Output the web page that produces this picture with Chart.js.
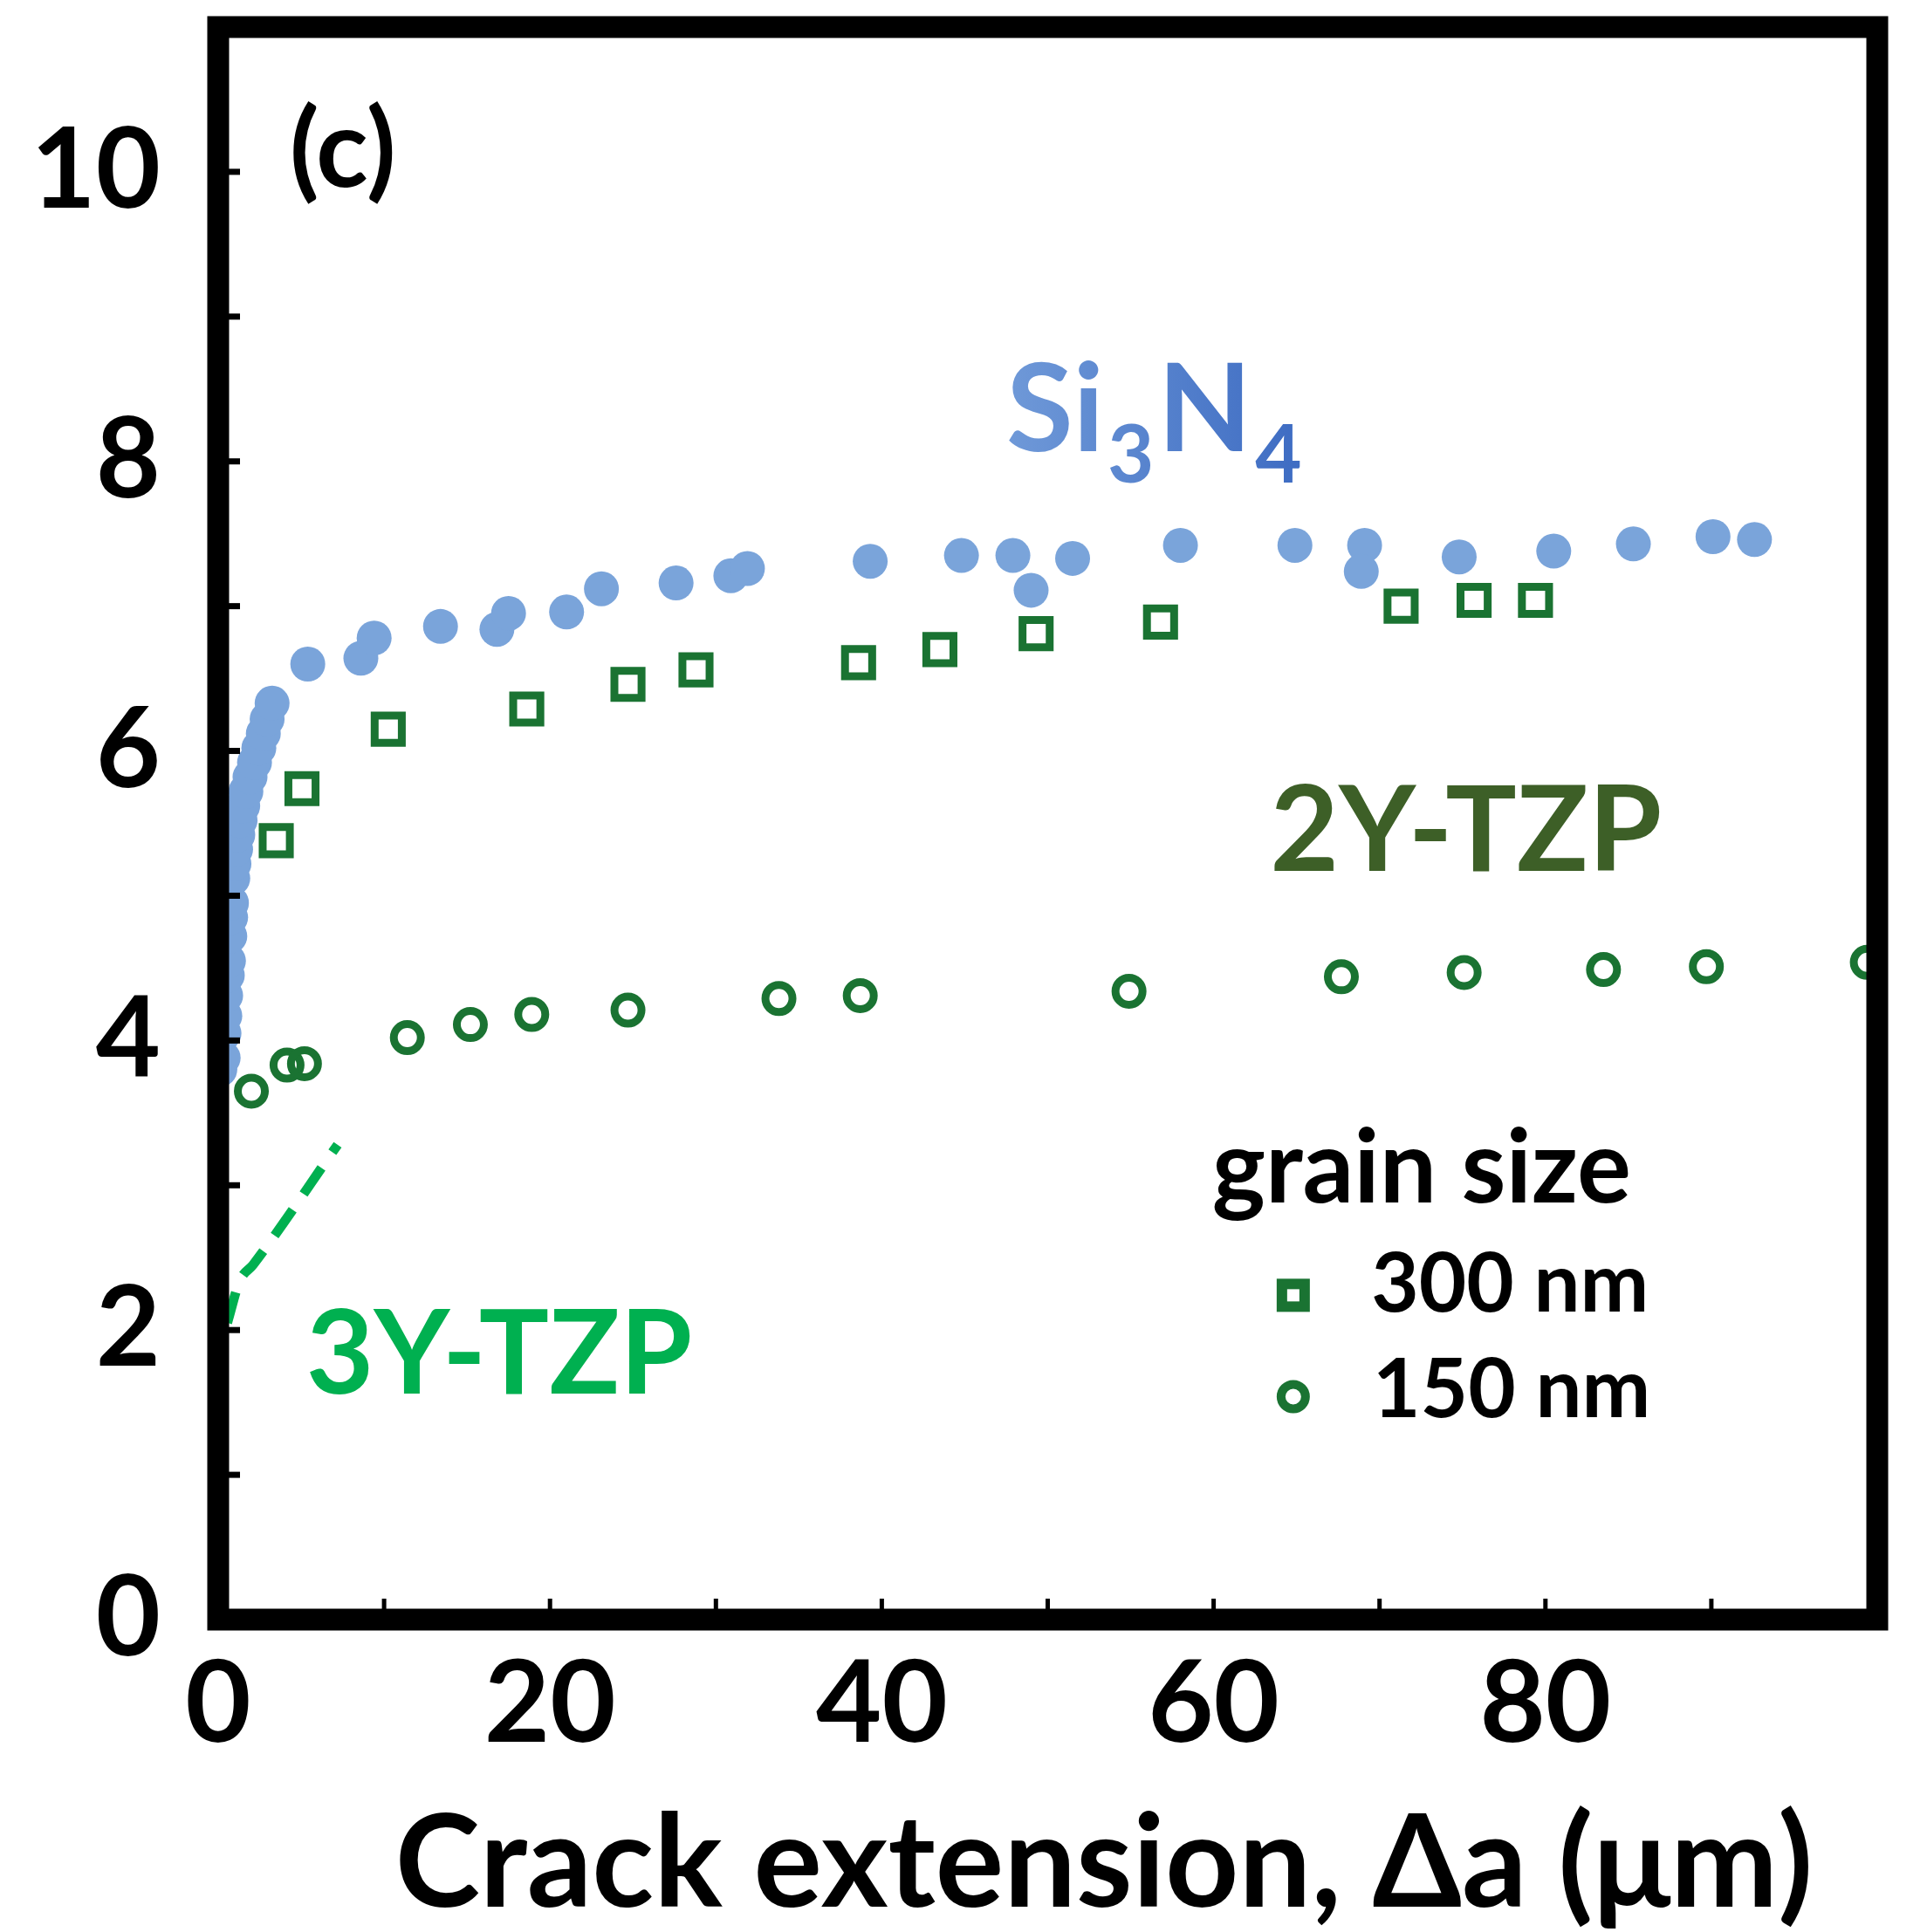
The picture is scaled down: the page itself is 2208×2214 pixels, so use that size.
<!DOCTYPE html>
<html>
<head>
<meta charset="utf-8">
<script src="https://cdn.jsdelivr.net/npm/chart.js@4.4.1/dist/chart.umd.min.js"></script>
<style>
  html, body { margin: 0; padding: 0; background: #fff; }
  #wrap { width: 2208px; height: 2214px; }
</style>
</head>
<body>
<div id="wrap"><canvas id="kChart"></canvas></div>
<script>
// Si3N4 - filled blue circles
const si3n4X = [0.1, 0.3, 0.35, 0.4, 0.45, 0.55, 0.62, 0.7, 0.75, 0.8, 0.88, 0.95, 1.05, 1.18, 1.32, 1.48, 1.67, 1.92, 2.19, 2.45, 2.72, 2.95, 3.25,
  5.4, 8.6, 9.4, 13.4, 16.8, 17.5, 21.0, 23.1, 27.6, 30.9, 31.9, 39.3, 44.8, 47.9, 49.0, 51.5, 58.0, 64.9, 69.1, 68.9, 74.8, 80.5, 85.3, 90.1, 92.6];
const si3n4Y = [3.80, 3.88, 4.05, 4.17, 4.31, 4.45, 4.55, 4.72, 4.85, 4.95, 5.12, 5.22, 5.32, 5.42, 5.52, 5.62, 5.72, 5.82, 5.92, 6.02, 6.12, 6.22, 6.33,
  6.60, 6.64, 6.78, 6.86, 6.84, 6.95, 6.96, 7.12, 7.16, 7.21, 7.26, 7.31, 7.35, 7.35, 7.11, 7.33, 7.42, 7.42, 7.42, 7.24, 7.34, 7.38, 7.43, 7.48, 7.46];

// 2Y-TZP, 300 nm grains - open squares
const tzp300X = [3.5, 5.05, 10.25, 18.6, 24.7, 28.8, 38.6, 43.5, 49.3, 56.8, 71.3, 75.7, 79.4];
const tzp300Y = [5.38, 5.74, 6.15, 6.29, 6.46, 6.56, 6.61, 6.70, 6.81, 6.89, 7.00, 7.04, 7.04];

// 2Y-TZP, 150 nm grains - open circles
const tzp150X = [2.0, 4.15, 5.2, 11.4, 15.2, 18.9, 24.7, 33.8, 38.7, 54.9, 67.7, 75.1, 83.5, 89.7, 99.4];
const tzp150Y = [3.65, 3.83, 3.84, 4.02, 4.11, 4.18, 4.21, 4.29, 4.31, 4.34, 4.44, 4.47, 4.49, 4.51, 4.54];

// 3Y-TZP - dashed curve
const tzp3yX = [0.55, 1.3, 2.1, 7.2];
const tzp3yY = [2.05, 2.34, 2.45, 3.28];

const xTickLabels = ['0', '20', '40', '60', '80'];
const yTickLabels = ['0', '2', '4', '6', '8', '10'];

const blue = '#7aa4da';
const darkGreen = '#1a7332';
const brightGreen = '#00b050';
const FONT = 'Lato, "Open Sans", sans-serif';

function pts(xs, ys) {
  return xs.map((v, i) => ({ x: v, y: ys[i] }));
}

function noPad(s) {
  s.paddingTop = 0;
  s.paddingBottom = 0;
  s.paddingLeft = 0;
  s.paddingRight = 0;
}

// black frame with inward ticks, drawn over the points
const framePlugin = {
  id: 'frame',
  afterDatasetsDraw(chart) {
    const { ctx, chartArea: a, scales: { x, y } } = chart;
    ctx.save();
    ctx.fillStyle = '#000';
    y.ticks.forEach(t => {
      if (t.value > 0 && t.value < 11) {
        const py = y.getPixelForValue(t.value);
        ctx.fillRect(a.left, py - 3.5, 25, 7);
      }
    });
    x.ticks.forEach(t => {
      if (t.value > 0 && t.value < 100) {
        const px = x.getPixelForValue(t.value);
        ctx.fillRect(px - 2.5, a.bottom - 24, 5, 24);
      }
    });
    ctx.lineWidth = 25;
    ctx.strokeStyle = '#000';
    ctx.strokeRect(a.left, a.top, a.right - a.left, a.bottom - a.top);
    ctx.restore();
  }
};

// text labels and the little legend
const notesPlugin = {
  id: 'notes',
  afterDraw(chart) {
    const { ctx, scales: { x, y } } = chart;
    const X = v => x.getPixelForValue(v);
    const Y = v => y.getPixelForValue(v);
    ctx.save();
    ctx.textBaseline = 'alphabetic';
    ctx.textAlign = 'left';

    ctx.fillStyle = '#000';
    ctx.font = 'bold 124px ' + FONT;
    ctx.fillText('(c)', X(4.3), Y(9.9));

    // Si3N4 with subscripts
    let px = X(47.5);
    const base = Y(8.07);
    const grad = ctx.createLinearGradient(px, 0, px + 330, 0);
    grad.addColorStop(0, '#6f99d8');
    grad.addColorStop(1, '#3f6dc3');
    ctx.fillStyle = grad;
    const parts = [['Si', 140, 0], ['3', 92, 36], ['N', 140, 0], ['4', 92, 36]];
    parts.forEach(([s, size, dy]) => {
      ctx.font = 'bold ' + size + 'px ' + FONT;
      ctx.fillText(s, px, base + dy);
      px += ctx.measureText(s).width + 4;
    });

    ctx.font = 'bold 136px ' + FONT;
    ctx.fillStyle = '#3d5f27';
    ctx.fillText('2Y-TZP', X(63.4), Y(5.17));
    ctx.font = 'bold 134px ' + FONT;
    ctx.fillStyle = brightGreen;
    ctx.fillText('3Y-TZP', X(5.3), Y(1.56));

    ctx.fillStyle = '#000';
    ctx.font = 'bold 116px ' + FONT;
    ctx.fillText('grain size', X(59.9), Y(2.88));
    ctx.font = 'bold 94px ' + FONT;
    ctx.fillText('300 nm', X(69.5), Y(2.13));
    ctx.fillText('150 nm', X(69.6), Y(1.40));

    ctx.strokeStyle = darkGreen;
    ctx.lineWidth = 12;
    ctx.strokeRect(X(64.8) - 13, Y(2.24) - 13, 26, 26);
    ctx.lineWidth = 10;
    ctx.beginPath();
    ctx.arc(X(64.8), Y(1.54), 14, 0, Math.PI * 2);
    ctx.stroke();

    // axis title
    ctx.fillStyle = '#000';
    ctx.font = 'bold 147px ' + FONT;
    ctx.textAlign = 'center';
    ctx.fillText('Crack extension, \u0394a (\u03bcm)', X(53.4), chart.height - 29);
    ctx.restore();
  }
};

const kChart = new Chart(document.getElementById('kChart'), {
  type: 'scatter',
  data: {
    datasets: [
      {
        label: '3Y-TZP',
        type: 'line',
        data: pts(tzp3yX, tzp3yY),
        borderColor: brightGreen,
        borderWidth: 11,
        borderDash: [36, 22],
        tension: 0.4,
        cubicInterpolationMode: 'monotone',
        pointRadius: 0,
        fill: false
      },
      {
        label: '150 nm',
        data: pts(tzp150X, tzp150Y),
        pointStyle: 'circle',
        pointRadius: 15.5,
        pointBorderWidth: 9,
        pointBorderColor: darkGreen,
        pointBackgroundColor: 'rgba(255,255,255,0)'
      },
      {
        label: '300 nm',
        data: pts(tzp300X, tzp300Y),
        pointStyle: 'rect',
        pointRadius: 22,
        pointBorderWidth: 9,
        pointBorderColor: darkGreen,
        pointBackgroundColor: 'rgba(255,255,255,0)'
      },
      {
        label: 'Si3N4',
        data: pts(si3n4X, si3n4Y),
        pointStyle: 'circle',
        pointRadius: 20,
        pointBorderWidth: 0,
        pointBackgroundColor: blue
      }
    ]
  },
  options: {
    responsive: true,
    maintainAspectRatio: false,
    animation: false,
    layout: { padding: { top: 30, right: 57, left: 0, bottom: 0 } },
    plugins: {
      legend: { display: false },
      tooltip: { enabled: false }
    },
    scales: {
      x: {
        type: 'linear',
        min: 0,
        max: 100,
        grid: { display: false },
        border: { display: false },
        ticks: {
          stepSize: 10,
          autoSkip: false,
          maxRotation: 0,
          padding: 12,
          color: '#000',
          font: { family: FONT, size: 130, weight: 'bold' },
          callback: v => xTickLabels.includes(String(v)) ? String(v) : ''
        },
        afterFit: s => { s.height = 358; noPad(s); }
      },
      y: {
        type: 'linear',
        min: 0,
        max: 11,
        grid: { display: false },
        border: { display: false },
        ticks: {
          stepSize: 1,
          autoSkip: false,
          padding: 58,
          color: '#000',
          font: { family: FONT, size: 128, weight: 'bold' },
          callback: v => yTickLabels.includes(String(v)) ? String(v) : ''
        },
        afterFit: s => { s.width = 250; noPad(s); }
      }
    }
  },
  plugins: [framePlugin, notesPlugin]
});
</script>
</body>
</html>
